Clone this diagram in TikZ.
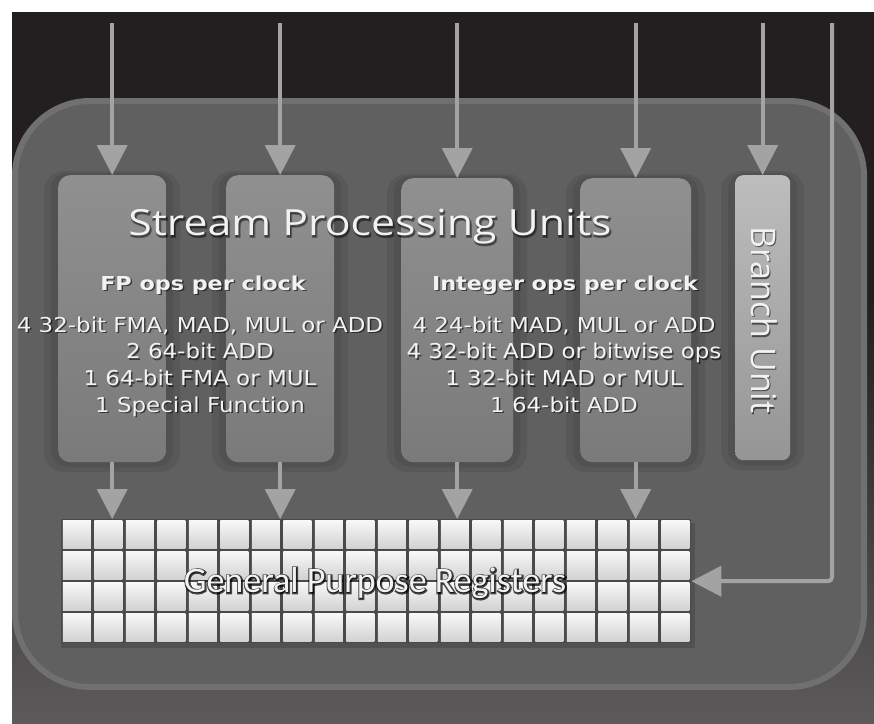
\documentclass[tikz,border=0pt]{standalone}
\usepackage{fontspec}
\usepackage{graphicx}
\setmainfont{Carlito}
\newfontfamily\halofont[FakeBold=8]{Carlito}
\newfontfamily\titlefont{Open Sans}
\newfontfamily\titlehalo[FakeBold=5]{Open Sans}
\newfontfamily\bodyfont{DejaVu Sans}
\usetikzlibrary{arrows.meta,calc}
\definecolor{bgdark}{HTML}{231F20}
\definecolor{bggrey}{HTML}{5C5A5A}
\definecolor{panel}{HTML}{606060}
\definecolor{panelrim}{HTML}{707070}
\definecolor{unitT}{HTML}{909090}
\definecolor{unitB}{HTML}{7A7A7A}
\definecolor{brT}{HTML}{BDBDBD}
\definecolor{brB}{HTML}{959595}
\definecolor{arrowc}{HTML}{A3A3A3}
\definecolor{txt}{HTML}{F2F2F2}
\definecolor{gridc}{HTML}{4A4A4A}
\definecolor{cellT}{HTML}{F7F7F7}
\definecolor{cellB}{HTML}{D2D2D2}
\newcommand\sxb[2]{\scalebox{#1}[1]{#2}}
\newcommand\lines[1]{\scalebox{1.12}[1]{\begin{tabular}{@{}c@{}}#1\end{tabular}}}
\begin{document}
\begin{tikzpicture}[x=1pt,y=-1pt,
  unitbox/.style={rounded corners=12pt, top color=unitT, bottom color=unitB, draw=none,
    inner sep=0pt, anchor=north west},
  brbox/.style={rounded corners=8pt, top color=brT, bottom color=brB, draw=none,
    inner sep=0pt, anchor=north west},
  flow/.style={draw=arrowc, line width=4pt, rounded corners=4pt,
    -{Triangle[width=30pt,length=30pt]}},
  lbl/.style={text=txt, font=\bodyfont\fontsize{20.5}{26.7}\selectfont, inner sep=0pt},
  hd/.style={text=txt, font=\bodyfont\bfseries\fontsize{19.2}{22}\selectfont, inner sep=0pt},
  shad/.style={text=black, opacity=0.55},
  cell/.style={top color=cellT, bottom color=cellB, draw=none},
]
\useasboundingbox (0,0) rectangle (874,723);
\fill[white] (0,0) rectangle (874,723);
\fill[bgdark] (12,12) rectangle (874,723);
\shade[top color=bgdark, bottom color=bggrey] (12,300) rectangle (874,723);

% main panel
\draw[fill=panel, draw=panelrim, line width=6pt, rounded corners=75pt] (15,101) rectangle (864,687);

% unit shadows
\foreach \xa/\ya/\xb/\yb in {58/175/166/462, 226/175/334/462, 401/178/513/462, 580/178/691/462, 735/175/790/460}{
  \fill[black, opacity=0.08, rounded corners=20pt] (\xa-14,\ya-4) rectangle (\xb+14,\yb+10);
  \fill[black, opacity=0.08, rounded corners=16pt] (\xa-7,\ya-2) rectangle (\xb+7,\yb+5);
}

% units
\node[unitbox, minimum width=108pt, minimum height=287pt] (u1) at (58,175) {};
\node[unitbox, minimum width=108pt, minimum height=287pt] (u2) at (226,175) {};
\node[unitbox, minimum width=112pt, minimum height=284pt] (u3) at (401,178) {};
\node[unitbox, minimum width=111pt, minimum height=284pt] (u4) at (580,178) {};
\node[brbox, minimum width=55pt, minimum height=285pt] (br) at (735,175) {};

% registers
\fill[black, opacity=0.15] (61,523) rectangle (695,648);
\node[fill=gridc, draw=none, inner sep=0pt, minimum width=630pt, minimum height=124pt,
  anchor=north west] (gpr) at (61,519) {};
\foreach \i in {0,...,19}{
  \foreach \j in {0,...,3}{
    \fill[cell] ({62.75+\i*31.5},{520.75+\j*31}) rectangle ++(28,27.5);
  }
}

% top arrows
\coordinate (t1) at (u1.north |- 0,23);
\coordinate (t2) at (u2.north |- 0,23);
\coordinate (t3) at (u3.north |- 0,23);
\coordinate (t4) at (u4.north |- 0,23);
\coordinate (t5) at (br.north |- 0,23);
\coordinate (t6) at (832,23);
\draw[flow] (t1) -- (u1.north);
\draw[flow] (t2) -- (u2.north);
\draw[flow] (t3) -- (u3.north);
\draw[flow] (t4) -- (u4.north);
\draw[flow] (t5) -- (br.north);
\draw[flow] (t6) |- (gpr.east);

% arrows to registers
\draw[flow] (u1.south) -- (u1.south |- gpr.north);
\draw[flow] (u2.south) -- (u2.south |- gpr.north);
\draw[flow] (u3.south) -- (u3.south |- gpr.north);
\draw[flow] (u4.south) -- (u4.south |- gpr.north);

% texts
\node[text=black, opacity=0.35, font=\titlehalo\fontsize{36}{40}\selectfont, inner sep=0pt] (tts) at (371,228) {\sxb{1.19}{Stream Processing Units}};
\node[text=txt, font=\titlefont\fontsize{36}{40}\selectfont, inner sep=0pt] (tt) at (370,227) {\sxb{1.19}{Stream Processing Units}};

\node[hd, shad] (fphs) at (204.5,286.5) {\sxb{1.16}{FP ops per clock}};
\node[hd] (fph) at (203,285) {\sxb{1.16}{FP ops per clock}};
\node[hd, shad] (inhs) at (566.5,286.5) {\sxb{1.16}{Integer ops per clock}};
\node[hd] (inh) at (565,285) {\sxb{1.16}{Integer ops per clock}};

\node[lbl, shad] (fpls) at (201.5,368.5) {\lines{4 32-bit FMA, MAD, MUL or ADD\\2 64-bit ADD\\1 64-bit FMA or MUL\\1 Special Function}};
\node[lbl] (fpl) at (200,367) {\lines{4 32-bit FMA, MAD, MUL or ADD\\2 64-bit ADD\\1 64-bit FMA or MUL\\1 Special Function}};
\node[lbl, shad] (inls) at (565.5,368.5) {\lines{4 24-bit MAD, MUL or ADD\\4 32-bit ADD or bitwise ops\\1 32-bit MAD or MUL\\1 64-bit ADD}};
\node[lbl] (inl) at (564,367) {\lines{4 24-bit MAD, MUL or ADD\\4 32-bit ADD or bitwise ops\\1 32-bit MAD or MUL\\1 64-bit ADD}};

\node[shad, rotate=-90, font=\titlefont\fontsize{34}{36}\selectfont, inner sep=0pt] (brs) at (765.5,321.5) {Branch Unit};
\node[text=txt, rotate=-90, font=\titlefont\fontsize{34}{36}\selectfont, inner sep=0pt] (brt) at (764,320) {Branch Unit};

\node[text=black, opacity=0.7, font=\halofont\fontsize{36}{38}\selectfont, inner sep=0pt] (gs) at (375.5,583.5) {General Purpose Registers};
\node[text=txt, font=\fontsize{36}{38}\selectfont, inner sep=0pt] (gt) at (375,583) {General Purpose Registers};
\end{tikzpicture}
\end{document}
